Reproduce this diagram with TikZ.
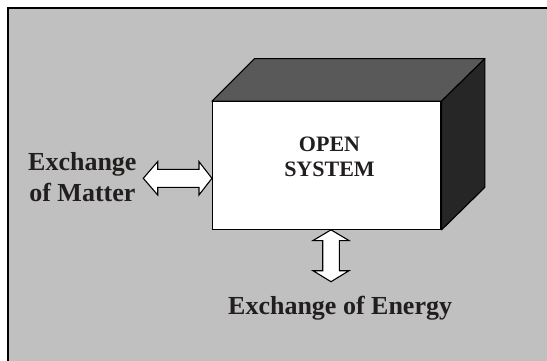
\documentclass[tikz,border=0pt]{standalone}
\usepackage{fontspec}
\setmainfont{Liberation Serif}
\usetikzlibrary{calc}
\definecolor{bggray}{HTML}{C0C0C0}
\definecolor{topgray}{HTML}{595959}
\definecolor{sidegray}{HTML}{262626}
\definecolor{txt}{HTML}{221E1E}
\tikzset{
  frameline/.style={line width=1.3pt, draw=black},
  sysbox/.style={draw=black, fill=white, line width=1.1pt, inner sep=0pt,
    minimum width=228.5pt, minimum height=127.6pt},
  topface/.style={draw=black, fill=topgray, line width=1.1pt, line join=round},
  sideface/.style={draw=black, fill=sidegray, line width=1.1pt, line join=round},
  dblarrow/.style={draw=black, fill=white, line width=1.1pt, line join=miter},
  bigtext/.style={font=\bfseries\fontsize{26}{31}\selectfont, text=txt, inner sep=0pt},
  titletext/.style={font=\bfseries\fontsize{22}{25}\selectfont, text=txt, inner sep=0pt, align=center}
}
\begin{document}
\begin{tikzpicture}[x=1pt,y=-1pt]
\useasboundingbox (0,0) rectangle (547,361);
\fill[white] (0,0) rectangle (547,361);
\fill[bggray] (8,8) rectangle (547,361);
\draw[frameline] (8,361) -- (8,8) -- (547,8);

% box
\node[sysbox] (sys) at (326.75,165.5) {};
\draw[topface] (sys.north west) -- ++(42.5,-42.5) -- ($(sys.north east)+(43.3,-42.5)$) -- (sys.north east) -- cycle;
\draw[sideface] (sys.north east) -- ++(43.3,-42.5) -- ($(sys.south east)+(43.3,-42.5)$) -- (sys.south east) -- cycle;
\node[titletext, anchor=base] (title) at (329.5,176.7) {OPEN\\SYSTEM};

% labels
\node[bigtext, align=center, anchor=base west] (matter) at (28,201.7) {Exchange\\of Matter};
\node[bigtext, anchor=base west] (energy) at (228,314) {Exchange of Energy};

% matter arrow
\coordinate (mL) at (143.3,178.3);
\coordinate (mR) at (sys.west |- mL);
\draw[dblarrow] (mL) -- ++(14.4,-16.7) -- ++(0,7.7) -- ($(mR)+(-13,-9)$) -- ++(0,-7.7) -- (mR)
  -- ++(-13,16.7) -- ++(0,-7.7) -- ($(mL)+(14.4,9)$) -- ++(0,7.7) -- cycle;

% energy arrow
\coordinate (eB) at (331,281.7);
\coordinate (eT) at (sys.south -| eB);
\draw[dblarrow] (eT) -- ++(18,10.7) -- ++(-9.7,0) -- ($(eB)+(8.3,-11)$) -- ++(9.7,0) -- (eB)
  -- ++(-18,-11) -- ++(9.7,0) -- ($(eT)+(-8.3,10.7)$) -- ++(-9.7,0) -- cycle;
\end{tikzpicture}
\end{document}
